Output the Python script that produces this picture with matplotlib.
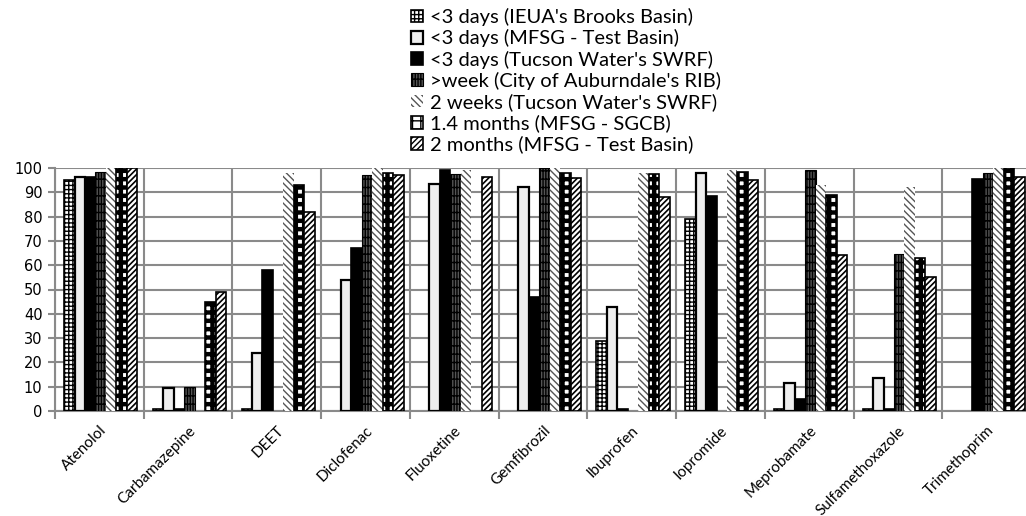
import types
import numpy as np
import matplotlib
matplotlib.use("Agg")
import matplotlib.pyplot as plt
from matplotlib.patches import Patch

nan = np.nan

compounds = ["Atenolol", "Carbamazepine", "DEET", "Diclofenac", "Fluoxetine",
             "Gemfibrozil", "Ibuprofen", "Iopromide", "Meprobamate",
             "Sulfamethoxazole", "Trimethoprim"]

series_labels = ["<3 days (IEUA's Brooks Basin)",
                 "<3 days (MFSG - Test Basin)",
                 "<3 days (Tucson Water's SWRF)",
                 ">week (City of Auburndale's RIB)",
                 "2 weeks (Tucson Water's SWRF)",
                 "1.4 months (MFSG - SGCB)",
                 "2 months (MFSG - Test Basin)"]

# percent removal, one list per series (nan = no data)
ieua_brooks   = [95, 0.8, 0.8, nan, nan, nan, 29, 79, 0.8, 0.8, nan]
mfsg_test_3d  = [96.5, 9.5, 24, 54, 93.5, 92, 43, 98, 11.5, 13.5, nan]
tucson_3d     = [96.5, 1, 58, 67, 99, 47, 1, 88.5, 5, 1, 95.5]
auburndale    = [98.5, 10, nan, 97, 97.5, 100, nan, nan, 99, 64.5, 98]
tucson_2wk    = [100, nan, 98, 100, 99, 100, 98, 99, 93, 92, 100]
mfsg_sgcb     = [100, 45, 93, 98, nan, 98, 97.5, 98.5, 89, 63, 100]
mfsg_test_2mo = [100, 49, 82, 97, 96.5, 96, 88, 95, 64, 55, 96.5]

series = [ieua_brooks, mfsg_test_3d, tucson_3d, auburndale,
          tucson_2wk, mfsg_sgcb, mfsg_test_2mo]

styles = [
    dict(facecolor="white", edgecolor="black", hatch="++++", linewidth=1.2),
    dict(facecolor="#eeeeee", edgecolor="black", hatch=None, linewidth=1.6),
    dict(facecolor="black", edgecolor="black", hatch=None, linewidth=1.2),
    dict(facecolor="#555555", edgecolor="black", hatch="||||||--", linewidth=0.8),
    dict(facecolor="white", edgecolor="#555555", hatch="\\\\\\\\\\", linewidth=0),
    dict(facecolor="white", edgecolor="black", hatch="++", linewidth=1.2),
    dict(facecolor="white", edgecolor="black", hatch="//////", linewidth=1.2),
]
hatch_lw = [1.0, 1.0, 1.0, 1.0, 1.0, 3.2, 1.2]


def with_hatch_lw(artist, lw):
    # draw this patch with its own hatch line width
    orig = artist.draw

    def draw(self, renderer):
        with plt.rc_context({"hatch.linewidth": lw}):
            if hasattr(self, "set_hatch_linewidth"):
                self.set_hatch_linewidth(lw)
            orig(renderer)
    artist.draw = types.MethodType(draw, artist)


fig = plt.figure(figsize=(10.26, 5.16), dpi=100)
ax = fig.add_axes([55 / 1026, 1 - 411 / 516, 976 / 1026, 243 / 516])

x = np.arange(len(compounds)) + 0.5
w = 0.118
for j, (vals, st) in enumerate(zip(series, styles)):
    with plt.rc_context({"hatch.linewidth": hatch_lw[j]}):
        bars = ax.bar(x + (j - 3) * w + 0.015, vals, width=w, zorder=3, **st)
    for b in bars:
        with_hatch_lw(b, hatch_lw[j])

grid_c = "#8a8a8a"
ax.set_xlim(0, len(compounds))
ax.set_ylim(0, 100)
ax.set_yticks(range(0, 101, 10))
ax.set_xticks(range(0, len(compounds) + 1))
ax.set_xticklabels([])
ax.set_xticks(x, minor=True)
ax.set_xticklabels(compounds, minor=True, rotation=45, ha="right", va="top",
                   rotation_mode="anchor", fontsize=11, family="Lato")
ax.tick_params(axis="x", which="minor", length=0, pad=9)
ax.tick_params(axis="x", which="major", length=6, width=1.5, color=grid_c)
ax.tick_params(axis="y", length=5, width=1.5, color=grid_c, labelsize=10.5,
               pad=4)
ax.grid(True, which="major", color=grid_c, linewidth=1.5, zorder=0)
ax.set_axisbelow(True)
for s in ["top", "right"]:
    ax.spines[s].set_visible(False)
for s in ["left", "bottom"]:
    ax.spines[s].set_color(grid_c)
    ax.spines[s].set_linewidth(1.5)

handles = []
for j, st in enumerate(styles):
    with plt.rc_context({"hatch.linewidth": min(hatch_lw[j], 2.2)}):
        p = Patch(**st, label=series_labels[j])
    with_hatch_lw(p, min(hatch_lw[j], 2.2))
    handles.append(p)
leg = fig.legend(handles=handles, loc="upper left", bbox_to_anchor=(0.393, 1.0),
                 frameon=False, prop=dict(family="Lato", size=14.5),
                 handlelength=0.6, handleheight=0.6, handletextpad=0.35,
                 labelspacing=0.16, borderaxespad=0)

fig.savefig("out.png", dpi=100)
